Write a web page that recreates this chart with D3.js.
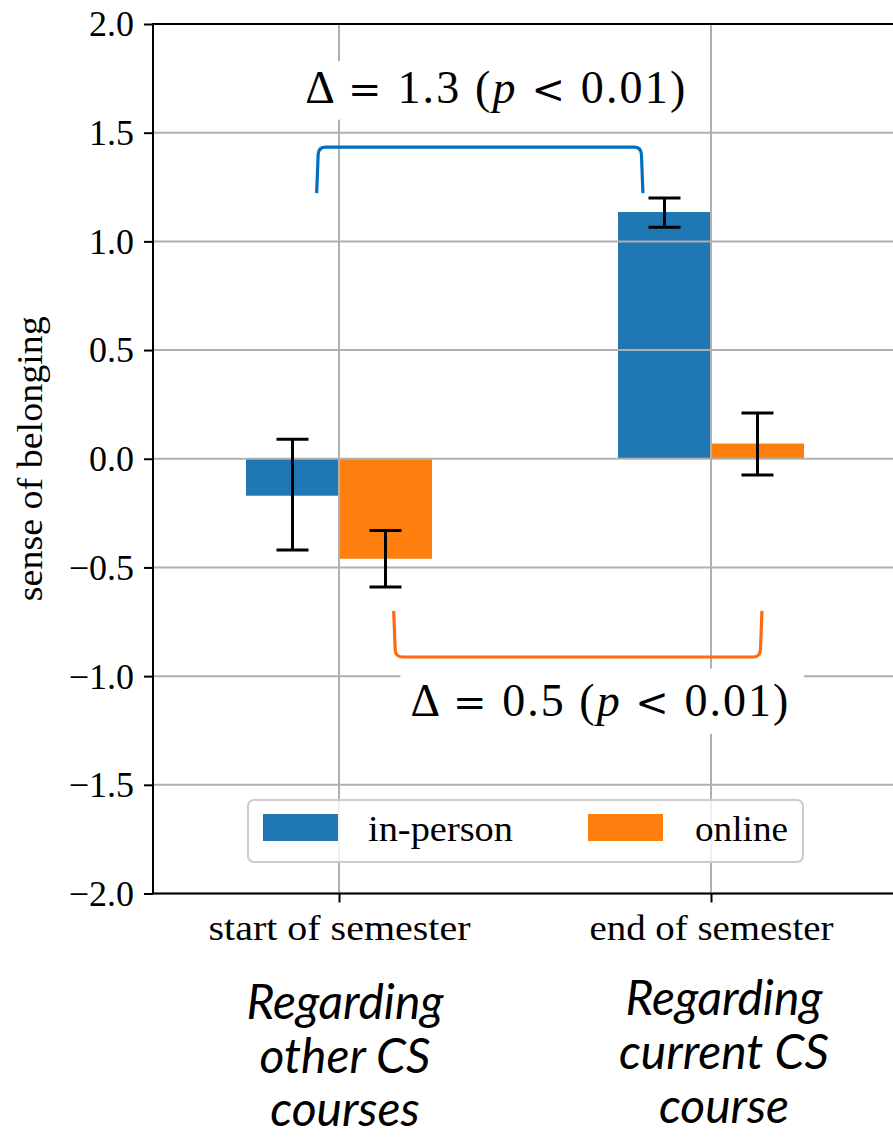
<!DOCTYPE html>
<html>
<head>
<meta charset="utf-8">
<script src="https://cdn.jsdelivr.net/npm/d3@7"></script>
<style>
  html, body { margin: 0; padding: 0; background: #fff; }
  svg { display: block; }
</style>
</head>
<body>
<div id="chart"></div>
<script>
// ---------------- data ----------------
const categories = ["start of semester", "end of semester"];
const seriesNames = ["in-person", "online"];
const inPersonValues = [-0.17, 1.135];
const onlineValues = [-0.46, 0.07];
const inPersonLow = [-0.42, 1.065];
const inPersonHigh = [0.09, 1.20];
const onlineLow = [-0.59, -0.075];
const onlineHigh = [-0.33, 0.21];
const yTickValues = [-2.0, -1.5, -1.0, -0.5, 0.0, 0.5, 1.0, 1.5, 2.0];
const yLabel = "sense of belonging";
const descriptionLines = [["Regarding", "other CS", "courses"], ["Regarding", "current CS", "course"]];
const deltaTexts = [["Δ ", "=", " 1.3 (", "p", " ", "<", " 0.01)"], ["Δ ", "=", " 0.5 (", "p", " ", "<", " 0.01)"]];

// ---------------- layout ----------------
const W = 893, H = 1139;
const plotLeft = 153, plotRight = 897, plotTop = 24, plotBottom = 893.5;
const serif = "'Liberation Serif', 'Times New Roman', serif";
const colors = ["#1f77b4", "#ff7f0e"];
const gridColor = "#b0b0b0";

const svg = d3.select("#chart").append("svg").attr("width", W).attr("height", H);

const x = d3.scaleLinear().domain([-0.5, 1.5]).range([plotLeft, plotRight]);
const y = d3.scaleLinear().domain([-2, 2]).range([plotBottom, plotTop]);
const barWidth = 0.25;

const bars = [];
categories.forEach((c, i) => {
  bars.push({ i, s: 0, v: inPersonValues[i], lo: inPersonLow[i], hi: inPersonHigh[i] });
  bars.push({ i, s: 1, v: onlineValues[i], lo: onlineLow[i], hi: onlineHigh[i] });
});
const barCenter = d => d.i + (d.s === 0 ? -barWidth / 2 : barWidth / 2);

// bars
svg.append("g").selectAll("rect").data(bars).enter().append("rect")
  .attr("x", d => x(barCenter(d) - barWidth / 2))
  .attr("width", d => x(barCenter(d) + barWidth / 2) - x(barCenter(d) - barWidth / 2))
  .attr("y", d => y(Math.max(0, d.v)))
  .attr("height", d => Math.abs(y(d.v) - y(0)))
  .attr("fill", d => colors[d.s]);

// grid (above bars, like matplotlib default)
const grid = svg.append("g");
grid.selectAll("line.h").data(yTickValues).enter().append("line")
  .attr("x1", plotLeft).attr("x2", plotRight)
  .attr("y1", d => y(d)).attr("y2", d => y(d))
  .attr("stroke", gridColor).attr("stroke-width", 2);
grid.selectAll("line.v").data(categories).enter().append("line")
  .attr("x1", (d, i) => x(i)).attr("x2", (d, i) => x(i))
  .attr("y1", plotTop).attr("y2", plotBottom)
  .attr("stroke", gridColor).attr("stroke-width", 2);

// white boxes behind annotation texts (they cut the grid)
svg.append("rect").attr("x", x(-0.12)).attr("y", y(1.83)).attr("width", x(0.95) - x(-0.12))
  .attr("height", y(1.56) - y(1.83)).attr("fill", "#fff");
svg.append("rect").attr("x", x(0.165)).attr("y", y(-0.965)).attr("width", x(1.25) - x(0.165))
  .attr("height", y(-1.265) - y(-0.965)).attr("fill", "#fff");

// error bars
const capHalf = 16;
const eb = svg.append("g").attr("stroke", "#000").attr("stroke-width", 3);
bars.forEach(d => {
  const cx = x(barCenter(d));
  eb.append("line").attr("x1", cx).attr("x2", cx).attr("y1", y(d.lo)).attr("y2", y(d.hi));
  eb.append("line").attr("x1", cx - capHalf).attr("x2", cx + capHalf).attr("y1", y(d.lo)).attr("y2", y(d.lo));
  eb.append("line").attr("x1", cx - capHalf).attr("x2", cx + capHalf).attr("y1", y(d.hi)).attr("y2", y(d.hi));
});

// axes
const yAxis = d3.axisLeft(y).tickValues(yTickValues).tickSize(9).tickPadding(10)
  .tickFormat(d => d3.format(".1f")(d).replace("-", "\u2212"));
const gy = svg.append("g").attr("transform", `translate(${plotLeft},0)`).call(yAxis);
gy.select(".domain").remove();
gy.selectAll(".tick line").attr("stroke", "#000").attr("stroke-width", 2);
gy.selectAll(".tick text").attr("font-family", serif).attr("font-size", 36).attr("fill", "#000").attr("dy", "0.33em");

const xAxis = d3.axisBottom(x).tickValues([0, 1]).tickSize(9).tickFormat((d, i) => categories[i]);
const gx = svg.append("g").attr("transform", `translate(0,${plotBottom})`).call(xAxis);
gx.select(".domain").remove();
gx.selectAll(".tick line").attr("stroke", "#000").attr("stroke-width", 2);
gx.selectAll(".tick text").attr("font-family", serif).attr("font-size", 36).attr("fill", "#000")
  .attr("dy", null).attr("y", 46)
  .attr("textLength", (d, i) => [262, 244][i]).attr("lengthAdjust", "spacingAndGlyphs");

// spines
const sp = svg.append("g").attr("stroke", "#000").attr("stroke-width", 2).attr("fill", "none");
sp.append("rect").attr("x", plotLeft).attr("y", plotTop).attr("width", plotRight - plotLeft).attr("height", plotBottom - plotTop);

// y label
svg.append("text").attr("transform", `translate(42,${y(0)}) rotate(-90)`)
  .attr("text-anchor", "middle").attr("font-family", serif).attr("font-size", 36)
  .attr("textLength", 285).attr("lengthAdjust", "spacingAndGlyphs")
  .text(yLabel);

// legend
const lg = svg.append("g");
lg.append("rect").attr("x", 248).attr("y", 800).attr("width", 555).attr("height", 62)
  .attr("rx", 6).attr("fill", "#fff").attr("fill-opacity", 0.8).attr("stroke", "#cccccc").attr("stroke-width", 2);
const legendItems = [{ px: 263, tx: 368, tl: 145 }, { px: 588, tx: 695, tl: 93 }];
seriesNames.forEach((n, i) => {
  lg.append("rect").attr("x", legendItems[i].px).attr("y", 814).attr("width", 75).attr("height", 27).attr("fill", colors[i]);
  lg.append("text").attr("x", legendItems[i].tx).attr("y", 841).attr("font-family", serif).attr("font-size", 36)
    .attr("textLength", legendItems[i].tl).attr("lengthAdjust", "spacingAndGlyphs").text(n);
});

// brackets
function bracket(x0, x1, yEnd, yBar, r) {
  const X0 = x(x0), X1 = x(x1), YE = y(yEnd), YB = y(yBar);
  const s = YE > YB ? 1 : -1;
  return `M${X0},${YE} L${X0 + 1.5},${YB + s * r} Q${X0 + 2},${YB} ${X0 + 2 + r},${YB} ` +
         `L${X1 - 2 - r},${YB} Q${X1 - 2},${YB} ${X1 - 1.5},${YB + s * r} L${X1},${YE}`;
}
svg.append("path").attr("d", bracket(-0.06, 0.817, 1.222, 1.434, 7))
  .attr("fill", "none").attr("stroke", "#0070c0").attr("stroke-width", 3.2);
svg.append("path").attr("d", bracket(0.147, 1.137, -0.70, -0.912, 7))
  .attr("fill", "none").attr("stroke", "#ff6a10").attr("stroke-width", 3.2);

// delta annotations
const deltaPos = [{ cx: 0.42, by: 1.636, len: 380 }, { cx: 0.70, by: -1.182, len: 378 }];
const symbolFont = "'DejaVu Serif', serif";
deltaTexts.forEach((parts, k) => {
  const t = svg.append("text").attr("x", x(deltaPos[k].cx)).attr("y", y(deltaPos[k].by))
    .attr("text-anchor", "middle").attr("font-family", serif).attr("font-size", 46)
    .attr("textLength", deltaPos[k].len).attr("lengthAdjust", "spacing");
  parts.forEach((p, j) => {
    const ts = t.append("tspan").text(p);
    if (p === "p") ts.attr("font-style", "italic");
    if (p === "=" || p === "<") ts.attr("font-family", symbolFont).attr("font-size", 40);
  });
});

// description texts
const descPos = [{ cx: 345, base: [1019, 1073, 1126] }, { cx: 724, base: [1015, 1069, 1123] }];
descriptionLines.forEach((lines, k) => {
  lines.forEach((ln, j) => {
    svg.append("text").attr("x", descPos[k].cx).attr("y", descPos[k].base[j])
      .attr("text-anchor", "middle").attr("font-family", "Lato, 'Open Sans', sans-serif")
      .attr("font-style", "italic").attr("font-size", 48).attr("fill", "#000").text(ln);
  });
});
</script>
</body>
</html>
